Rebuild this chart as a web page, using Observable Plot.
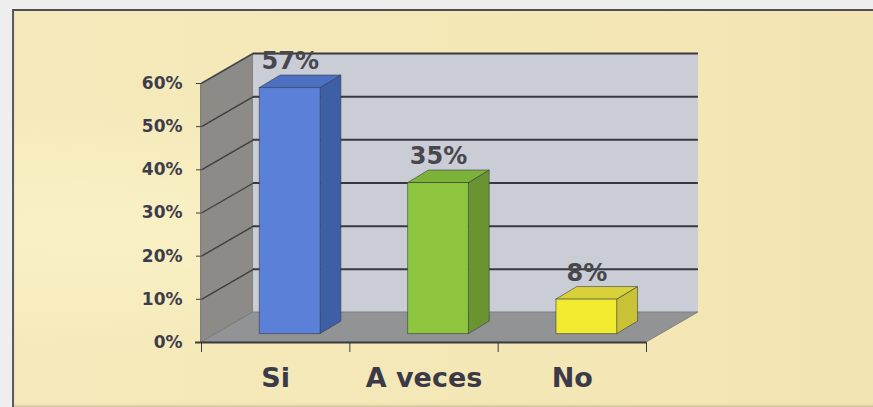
<!DOCTYPE html>
<html>
<head>
<meta charset="utf-8">
<script src="https://cdn.jsdelivr.net/npm/d3@7"></script>
<script src="https://cdn.jsdelivr.net/npm/@observablehq/plot@0.6"></script>
<style>
  html, body { margin: 0; padding: 0; background: #f2efe0; overflow: hidden; }
  #wrap { position: relative; width: 900px; height: 420px; overflow: hidden; background: #eeeeee; }
  #frame {
    position: absolute; left: 12px; top: 9px; width: 900px; height: 398px;
    border-top: 2px solid #4e4e55; border-left: 2px solid #5a5a60;
    box-shadow: inset 0 -4px 3px -1px rgba(150,140,115,0.55);
    background:
      radial-gradient(ellipse at 10% 55%, rgba(250,243,200,0.8), rgba(250,243,200,0) 40%),
      linear-gradient(90deg, #f5eabb, #f4e7b6 60%, #f3e4b2);
  }
  #chart { position: absolute; left: 0; top: 0; }
</style>
</head>
<body>
<div id="wrap"><div id="frame"></div><div id="chart"></div></div>
<script>
// ---- data ----
const categories = ["Si", "A veces", "No"];
const values = [0.57, 0.35, 0.08];
const valueLabels = ["57%", "35%", "8%"];
const yTicks = [0, 0.1, 0.2, 0.3, 0.4, 0.5, 0.6];
const yTickLabels = ["0%", "10%", "20%", "30%", "40%", "50%", "60%"];

// ---- styles ----
const frontColors = ["#5a80d8", "#8dc53e", "#f2ea2e"];
const sideColors  = ["#3e5ea6", "#6a9432", "#c9c236"];
const topColors   = ["#4c6fc2", "#7db23a", "#d9d13c"];

// 3D geometry (data units)
const DX = 0.35, DY = 0.0695;          // room depth
const bx0 = 0.28 * DX, by0 = 0.28 * DY; // bar front offset
const bdx = 0.14, bdy = 0.029;          // bar depth
const bw = 0.41;                        // bar front width
const yMax = yTicks[yTicks.length - 1];
const nCat = categories.length;

const bars = categories.map((c, i) => {
  const xc = i + 0.5 + bx0;
  return { cat: c, i, v: values[i], label: valueLabels[i],
           xl: xc - bw / 2, xr: xc + bw / 2, xc };
});

const leftWall = [
  { x: 0, y1: 0, y2: yMax },
  { x: DX, y1: DY, y2: yMax + DY }
];
const floor = [
  { y: 0, x1: 0, x2: nCat },
  { y: DY, x1: DX, x2: nCat + DX }
];
const sideData = bars.flatMap(d => [
  { cat: d.cat, fill: sideColors[d.i], x: d.xr, y1: by0, y2: d.v + by0 },
  { cat: d.cat, fill: sideColors[d.i], x: d.xr + bdx, y1: by0 + bdy, y2: d.v + by0 + bdy }
]);
const topData = bars.flatMap(d => [
  { cat: d.cat, fill: topColors[d.i], y: d.v + by0, x1: d.xl, x2: d.xr },
  { cat: d.cat, fill: topColors[d.i], y: d.v + by0 + bdy, x1: d.xl + bdx, x2: d.xr + bdx }
]);
const gridTicks = yTicks.filter(t => t > 0);

const plot = Plot.plot({
  width: 873,
  height: 407,
  marginLeft: 201,
  marginRight: 227,
  marginTop: 83,
  marginBottom: 65,
  style: { background: "transparent", overflow: "visible" },
  x: { domain: [0, nCat], axis: null },
  y: { domain: [0, yMax], axis: null },
  color: { type: "identity" },
  marks: [
    // left wall
    Plot.areaY(leftWall, { x: "x", y1: "y1", y2: "y2", fill: "#8c8b88", stroke: "#6e6d6a", strokeWidth: 1 }),
    // back wall
    Plot.rect([0], { x1: DX, x2: nCat + DX, y1: DY, y2: yMax + DY, fill: "#cacdd6" }),
    // floor
    Plot.areaX(floor, { y: "y", x1: "x1", x2: "x2", fill: "#919395", stroke: "#7d7f82", strokeWidth: 1 }),
    // gridlines on back wall
    Plot.ruleY(gridTicks, { y: d => d + DY, x1: DX, x2: nCat + DX, stroke: "#38383e", strokeWidth: 2 }),
    // gridlines on left wall
    Plot.link(gridTicks, { x1: 0, y1: d => d, x2: DX, y2: d => d + DY, stroke: "#3e3e42", strokeWidth: 1.3 }),
    // bars: side, top, front
    Plot.areaY(sideData, { x: "x", y1: "y1", y2: "y2", z: "cat", fill: "fill", stroke: "#2e3440", strokeOpacity: 0.55, strokeWidth: 1 }),
    Plot.areaX(topData, { y: "y", x1: "x1", x2: "x2", z: "cat", fill: "fill", stroke: "#2e3440", strokeOpacity: 0.55, strokeWidth: 1 }),
    Plot.rect(bars, { x1: "xl", x2: "xr", y1: by0, y2: d => d.v + by0, fill: d => frontColors[d.i], stroke: "#2e3440", strokeOpacity: 0.55, strokeWidth: 1 }),
    // value labels
    Plot.text(bars, { x: "xc", y: d => d.v + by0 + bdy, text: "label", dy: -14,
      fontSize: 24, fontWeight: "bold", fontFamily: "DejaVu Sans", fill: "#47474c" }),
    // front axis line
    Plot.ruleY([0], { x1: -0.04, x2: nCat, stroke: "#3a3a40", strokeWidth: 2 }),
    // y axis
    Plot.axisY(yTicks, { anchor: "left", tickSize: 5, tickPadding: 14,
      tickFormat: (d, i) => yTickLabels[i], fontSize: 17, fontWeight: "bold",
      fontFamily: "DejaVu Sans", color: "#3d3d4a" }),
    // x axis boundary ticks
    Plot.axisX(d3.range(nCat + 1), { anchor: "bottom", tickSize: 10, tickFormat: () => "", color: "#3a3a40" }),
    // category labels
    Plot.axisX(categories.map((c, i) => i + 0.5), { anchor: "bottom", tickSize: 0, tickPadding: 25,
      tickFormat: (d, i) => categories[i], fontSize: 27, fontWeight: "bold",
      fontFamily: "DejaVu Sans", color: "#3a3a48" })
  ]
});
document.getElementById("chart").appendChild(plot);
</script>
</body>
</html>
